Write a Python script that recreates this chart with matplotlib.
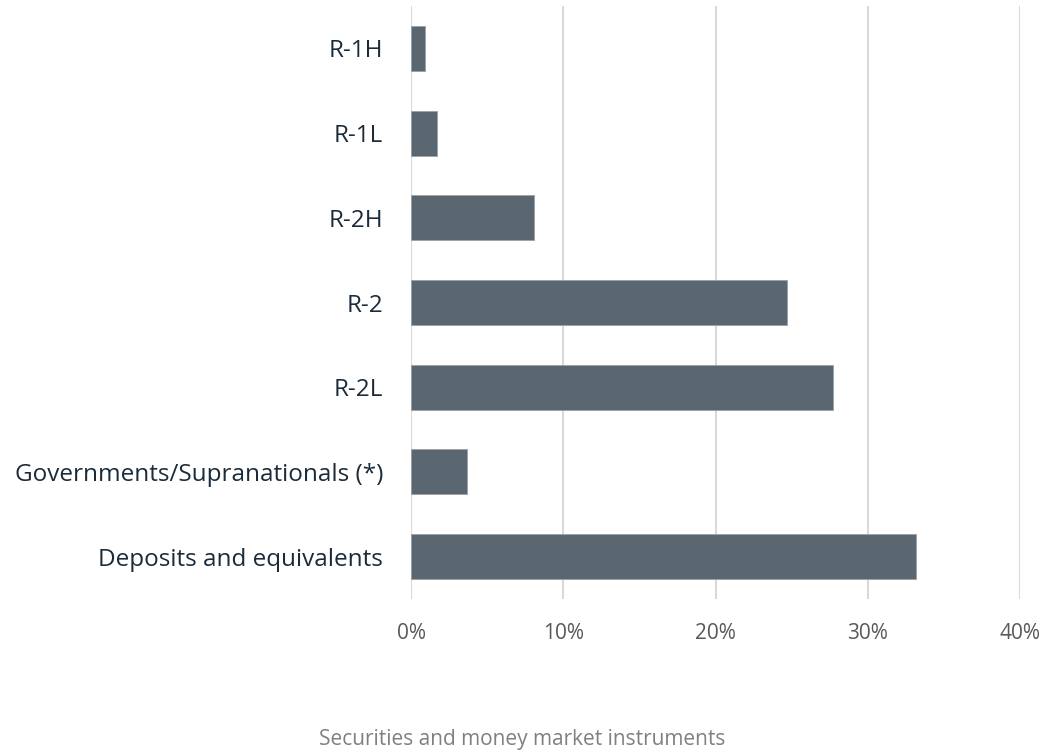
import matplotlib.pyplot as plt
from matplotlib.ticker import PercentFormatter

# portfolio breakdown by rating bucket (% of securities and money market instruments)
categories = ['R-1H', 'R-1L', 'R-2H', 'R-2', 'R-2L',
              'Governments/Supranationals (*)', 'Deposits and equivalents']
shares = [0.9, 1.7, 8.1, 24.7, 27.7, 3.7, 33.2]
x_ticks = [0, 10, 20, 30, 40]
title = 'Securities and money market instruments'

plt.rcParams['font.family'] = ['Open Sans', 'DejaVu Sans']

fig = plt.figure(figsize=(10.44, 7.54), dpi=100)
ax = fig.add_axes([411/1044, 1 - 599/754, (1020 - 411)/1044, (599 - 6)/754])

pos = list(range(len(categories)))[::-1]
ax.barh(pos, shares, height=0.53, color='#5b6770', edgecolor='#9aa2a8',
        linewidth=0.6, zorder=3)

ax.set_xlim(0, 40)
ax.set_ylim(-0.5, len(categories) - 0.5)
ax.set_xticks(x_ticks)
ax.xaxis.set_major_formatter(PercentFormatter(decimals=0))
ax.set_yticks(pos)
ax.set_yticklabels(categories)

ax.grid(axis='x', color='#d9d9d9', linewidth=1.5, zorder=0)
ax.grid(axis='y', visible=False)
for s in ax.spines.values():
    s.set_visible(False)

ax.tick_params(axis='x', length=0, pad=17, labelsize=15, labelcolor='#595959')
ax.tick_params(axis='y', length=0, pad=20, labelsize=17.5, labelcolor='#1c2b39')

fig.text(0.5, 1 - 740/754, title, ha='center', va='center',
         fontsize=15, color='#808080')

fig.savefig('out.png', dpi=100)
